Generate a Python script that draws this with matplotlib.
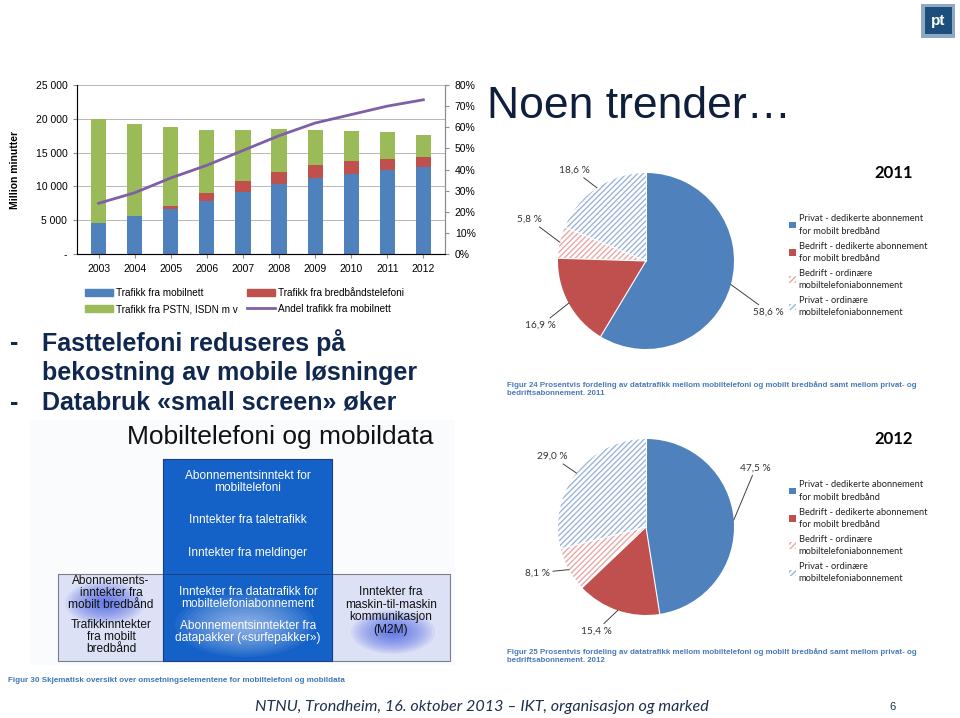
import numpy as np
import matplotlib.pyplot as plt
from matplotlib.patches import Rectangle, Ellipse, Patch
from matplotlib.lines import Line2D

plt.rcParams['font.family'] = ['Liberation Sans', 'DejaVu Sans']

# --- data: telefontrafikk (million minutter) ---
aar = ['2003', '2004', '2005', '2006', '2007', '2008', '2009', '2010', '2011', '2012']
mobilnett = [4600, 5600, 6700, 7800, 9100, 10300, 11300, 11900, 12500, 12800]
bredband = [0, 0, 450, 1200, 1700, 1800, 1800, 1800, 1600, 1500]
pstn = [15400, 13600, 11650, 9400, 7600, 6400, 5200, 4500, 3900, 3300]
andel_mobil = [0.24, 0.29, 0.36, 0.42, 0.49, 0.56, 0.62, 0.66, 0.70, 0.73]

# --- data: fordeling av datatrafikk (%) ---
pie_etiketter = ['Privat - dedikerte abonnement\nfor mobilt bredbånd',
                 'Bedrift - dedikerte abonnement\nfor mobilt bredbånd',
                 'Bedrift - ordinære\nmobiltelefoniabonnement',
                 'Privat - ordinære\nmobiltelefoniabonnement']
andel_2011 = [58.6, 16.9, 5.8, 18.6]
andel_2012 = [47.5, 15.4, 8.1, 29.0]

BLA, ROD, GRONN, LILLA = '#4f81bd', '#c0504d', '#9bbb59', '#7f5fa6'
W, H = 960, 718
CAL = ['Lato', 'DejaVu Sans']


def fr(x0, y0, w, h):
    return [x0 / W, 1 - (y0 + h) / H, w / W, h / H]


fig = plt.figure(figsize=(9.6, 7.18), dpi=100)
fig.patch.set_facecolor('white')

# overlay in pixel coordinates for slide text and the diagram
ov = fig.add_axes([0, 0, 1, 1])
ov.set_xlim(0, W)
ov.set_ylim(H, 0)
ov.axis('off')

# ---------------- stacked bar chart ----------------
ax = fig.add_axes(fr(77, 85, 368, 169))
x = np.arange(len(aar))
bw = 0.42
ax.bar(x, mobilnett, bw, color=BLA, zorder=3)
ax.bar(x, bredband, bw, bottom=mobilnett, color=ROD, zorder=3)
bunn = np.array(mobilnett) + np.array(bredband)
ax.bar(x, pstn, bw, bottom=bunn, color=GRONN, zorder=3)
ax.set_xlim(-0.6, len(aar) - 0.4)
ax.set_ylim(0, 25000)
ax.set_yticks(range(0, 25001, 5000))
ax.set_yticklabels(['-', '5 000', '10 000', '15 000', '20 000', '25 000'], fontsize=7.5)
ax.set_xticks(x)
ax.set_xticklabels(aar, fontsize=7.5)
ax.grid(axis='y', color='#b8b8b8', linewidth=0.7, zorder=0)
ax.spines['top'].set_visible(False)
for s in ['left', 'bottom', 'right']:
    ax.spines[s].set_color('#8c8c8c')
ax.tick_params(length=3, color='#8c8c8c', pad=4)
ax.set_ylabel('Million minutter', fontsize=7.5, fontweight='bold', labelpad=11)

ax2 = ax.twinx()
ax2.plot(x, andel_mobil, color=LILLA, linewidth=2, zorder=4)
ax2.set_ylim(0, 0.8)
ax2.set_yticks(np.arange(0, 0.81, 0.1))
ax2.set_yticklabels([f'{int(round(v * 100))}%' for v in np.arange(0, 0.81, 0.1)], fontsize=7.5)
ax2.spines['top'].set_visible(False)
ax2.spines['right'].set_color('#8c8c8c')
ax2.tick_params(length=3, color='#8c8c8c', pad=4)

handles = [Patch(color=BLA), Patch(color=GRONN), Patch(color=ROD), Line2D([], [], color=LILLA, lw=2)]
labels = ['Trafikk fra mobilnett', 'Trafikk fra PSTN, ISDN m v',
          'Trafikk fra bredbåndstelefoni', 'Andel trafikk fra mobilnett']
fig.legend(handles, labels, ncol=2, loc='upper left', bbox_to_anchor=(76 / W, 1 - 279 / H),
           frameon=False, fontsize=7.2, handlelength=2.8, handleheight=0.8,
           columnspacing=0.9, labelspacing=0.6, handletextpad=0.3)

# ---------------- pies ----------------
pie_farger = ['#4f81bd', '#c0504d', 'white', 'white']
pie_hatch = [None, None, '//////', '//////']
pie_hatchfarge = [BLA, ROD, '#e8a8a6', '#9db5d8']


def tegn_pie(rect, verdier, etikettpos, aarstall, legend_y, caption_y, figurnr):
    pa = fig.add_axes(fr(*rect))
    wedges, _ = pa.pie(verdier, startangle=90, counterclock=False, colors=pie_farger,
                       wedgeprops=dict(linewidth=0))
    for w, h, hc in zip(wedges, pie_hatch, pie_hatchfarge):
        if h:
            w.set_hatch(h)
            w.set_edgecolor(hc)
            w.set_linewidth(0)
    # white separators between slices
    start = 90
    for v in verdier:
        a = np.deg2rad(start)
        pa.plot([0, np.cos(a)], [0, np.sin(a)], color='white', lw=0.8, zorder=5)
        start -= v * 3.6
    pa.set_xlim(-1, 1)
    pa.set_ylim(-1, 1)
    pa.set_aspect('equal')
    start = 90
    for v, pos in zip(verdier, etikettpos):
        mid = np.deg2rad(start - v * 1.8)
        start -= v * 3.6
        kant = (np.cos(mid), np.sin(mid))
        ha = 'left' if pos[0] > 0 else 'right'
        pa.annotate(f'{v:.1f} %'.replace('.', ','), xy=kant, xytext=pos, fontsize=7.3,
                    family=CAL, color='#333333', ha=ha, va='center', annotation_clip=False,
                    arrowprops=dict(arrowstyle='-', color='#404040', lw=0.7,
                                    shrinkA=0, shrinkB=0))
    ov.text(913, legend_y - 33, aarstall, fontsize=12, fontweight='bold', ha='right', va='center',
            family=CAL)
    leg = fig.legend(wedges, pie_etiketter, loc='upper left',
                     bbox_to_anchor=(781 / W, 1 - legend_y / H),
                     frameon=False, handlelength=0.7, handleheight=0.7,
                     handletextpad=0.3, labelspacing=0.65, prop=dict(family=CAL, size=6.7))
    for t in leg.get_texts():
        t.set_linespacing(1.45)
        t.set_color('#222222')
    ov.text(507, caption_y, f'Figur {figurnr} Prosentvis fordeling av datatrafikk mellom mobiltelefoni og '
            'mobilt bredbånd samt mellom privat- og\nbedriftsabonnement. ' + aarstall,
            fontsize=5.7, fontweight='bold', color='#4a7ab8', va='top', linespacing=1.15)


tegn_pie((558, 173, 176, 176), andel_2011,
         [(1.22, -0.58), (-1.02, -0.73), (-1.18, 0.47), (-0.64, 1.03)],
         '2011', 206, 381, 24)
tegn_pie((558, 439, 176, 176), andel_2012,
         [(1.07, 0.67), (-0.39, -1.18), (-1.09, -0.52), (-0.89, 0.8)],
         '2012', 472, 648, 25)

# ---------------- slide text ----------------
ov.text(487, 106, 'Noen trender…', fontsize=32, color='#0f1e3c', va='center')
tekst_farge = '#10284f'
tk = dict(fontsize=18, color=tekst_farge, va='center', fontweight='bold')
ov.text(10, 343, '-', **tk)
ov.text(42, 343, 'Fasttelefoni reduseres på', **tk)
ov.text(42, 373, 'bekostning av mobile løsninger', **tk)
ov.text(10, 403, '-', **tk)
ov.text(42, 403, 'Databruk «small screen» øker', **tk)

ov.text(255, 707, 'NTNU, Trondheim, 16. oktober 2013 – IKT, organisasjon og marked',
        fontsize=11.6, style='italic', family=CAL, color='#1f2f4f', va='center')
ov.text(893, 707, '6', fontsize=8, color='#1f2f4f', va='center', ha='center')

# logo
ov.add_patch(Rectangle((921, 4), 34, 34, facecolor='#8fa8c4', edgecolor='none'))
ov.add_patch(Rectangle((925, 7), 27, 27, facecolor='#1d4f7c', edgecolor='none'))
ov.text(938.5, 21, 'pt', fontsize=11, color='white', ha='center', va='center', fontweight='bold')

# ---------------- diagram ----------------
ov.add_patch(Rectangle((30, 420), 425, 245, facecolor='#fafbfc', edgecolor='none', zorder=0))
ov.text(280, 437, 'Mobiltelefoni og mobildata', fontsize=19, ha='center', va='center', color='#111111')

venstre = Rectangle((58, 574), 105, 87, facecolor='#dde1f6', edgecolor='#7a7f90', lw=0.8, zorder=1)
hoyre = Rectangle((332, 574), 118, 87, facecolor='#dde1f6', edgecolor='#7a7f90', lw=0.8, zorder=1)
midt = Rectangle((163, 459), 169, 202, facecolor='#1461c8', edgecolor='#1a3f80', lw=0.8, zorder=1)
for p in (venstre, hoyre, midt):
    ov.add_patch(p)


def glod(cx, cy, rx, ry, farge, boks, n=14, alpha=0.07):
    for i in range(n):
        f = 1 - i / n
        e = Ellipse((cx, cy), 2 * rx * f, 2 * ry * f, facecolor=farge, edgecolor='none',
                    alpha=alpha, zorder=2)
        ov.add_patch(e)
        e.set_clip_path(boks)


glod(105, 603, 40, 22, '#2a48e0', venstre)
glod(393, 632, 42, 22, '#2a48e0', hoyre)
glod(245, 625, 70, 32, '#e8f0ff', midt, alpha=0.06)
ov.plot([163, 332], [574, 574], color='#1a3f80', lw=0.6, zorder=3)

kw = dict(ha='center', va='center', fontsize=8.6, zorder=4, linespacing=1.05)
ov.text(248, 482, 'Abonnementsinntekt for\nmobiltelefoni', color='white', **kw)
ov.text(248, 520, 'Inntekter fra taletrafikk', color='white', **kw)
ov.text(248, 553, 'Inntekter fra meldinger', color='white', **kw)
ov.text(248, 598, 'Inntekter fra datatrafikk for\nmobiltelefoniabonnement', color='white', **kw)
ov.text(248, 632, 'Abonnementsinntekter fra\ndatapakker («surfepakker»)', color='white', **kw)
ov.text(111, 593, 'Abonnements-\ninntekter fra\nmobilt bredbånd', color='#111111', **kw)
ov.text(111, 637, 'Trafikkinntekter\nfra mobilt\nbredbånd', color='#111111', **kw)
ov.text(391, 611, 'Inntekter fra\nmaskin-til-maskin\nkommunikasjon\n(M2M)', color='#111111', **kw)

ov.text(8, 680, 'Figur 30 Skjematisk oversikt over omsetningselementene for mobiltelefoni og mobildata',
        fontsize=5.8, fontweight='bold', color='#3c78b8', va='center')

fig.savefig('out.png', dpi=100)
